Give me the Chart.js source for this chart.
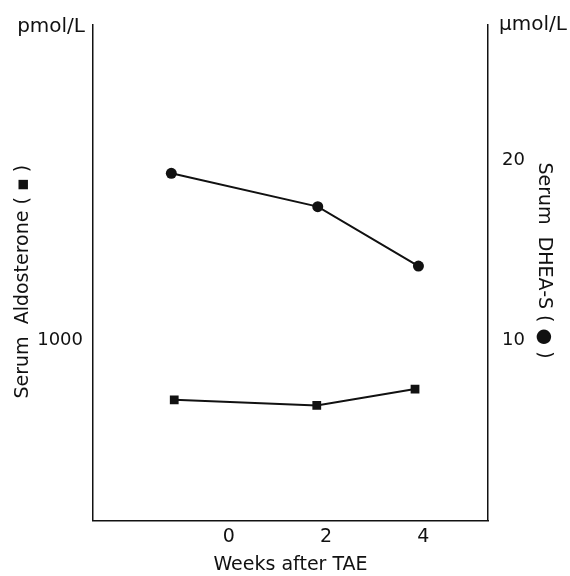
<!DOCTYPE html>
<html>
<head>
<meta charset="utf-8">
<script src="https://cdn.jsdelivr.net/npm/chart.js@4/dist/chart.umd.min.js"></script>
<style>
  html, body { margin: 0; padding: 0; background: #fff; }
  #wrap { width: 570px; height: 576px; }
</style>
</head>
<body>
<div id="wrap"><canvas id="tae-chart"></canvas></div>
<script>
const weekTicks = [0, 2, 4];
const aldoTicks = [1000];
const dheaTicks = [10, 20];

const aldoWeeks = [-1.12, 1.81, 3.83];
const aldoValues = [669, 638, 729];
const dheaWeeks = [-1.18, 1.83, 3.90];
const dheaValues = [19.26, 17.41, 14.11];

const ink = '#111';
const textFont = 'DejaVu Sans';

const pairs = (xs, ys) => xs.map((x, i) => ({ x: x, y: ys[i] }));
const fixTicks = list => scale => { scale.ticks = list.map(v => ({ value: v })); };

// unit labels beside the top of both axes
const unitLabels = {
    id: 'unitLabels',
    afterDraw(chart) {
        const { ctx, chartArea } = chart;
        ctx.save();
        ctx.fillStyle = ink;
        ctx.font = '20px "' + textFont + '"';
        ctx.textBaseline = 'alphabetic';
        ctx.textAlign = 'right';
        ctx.fillText('pmol/L', chartArea.left - 8, 32);
        ctx.textAlign = 'left';
        ctx.fillText('\u03bcmol/L', chartArea.right + 11, 30);
        ctx.restore();
    }
};

Chart.defaults.color = ink;
Chart.defaults.font.family = textFont;

new Chart(document.getElementById('tae-chart').getContext('2d'), {
    type: 'line',
    data: {
        datasets: [
            {
                label: 'Serum DHEA-S',
                data: pairs(dheaWeeks, dheaValues),
                yAxisID: 'yDhea',
                borderColor: ink,
                borderWidth: 2,
                pointStyle: 'circle',
                pointRadius: 5.5,
                pointBackgroundColor: ink,
                pointBorderColor: ink,
                pointBorderWidth: 0
            },
            {
                label: 'Serum Aldosterone',
                data: pairs(aldoWeeks, aldoValues),
                yAxisID: 'yAldo',
                borderColor: ink,
                borderWidth: 2,
                pointStyle: 'rect',
                pointRadius: 6.2,
                pointBackgroundColor: ink,
                pointBorderColor: ink,
                pointBorderWidth: 0
            }
        ]
    },
    options: {
        responsive: true,
        maintainAspectRatio: false,
        animation: false,
        layout: { padding: { top: 24, left: 0, right: 0, bottom: 0 } },
        plugins: {
            legend: { display: false },
            tooltip: { enabled: false }
        },
        scales: {
            x: {
                type: 'linear',
                min: -2.79,
                max: 5.33,
                afterBuildTicks: fixTicks(weekTicks),
                grid: { display: false, drawTicks: false, tickLength: 0 },
                border: { display: true, color: ink, width: 1.5 },
                ticks: { padding: 5, font: { size: 19 } },
                title: { display: true, text: 'Weeks after TAE', font: { size: 19 }, padding: { top: 0, bottom: 0 } }
            },
            yAldo: {
                type: 'linear',
                position: 'left',
                min: 0,
                max: 2750,
                afterBuildTicks: fixTicks(aldoTicks),
                afterFit: s => { s.width = 93; },
                grid: { display: false, drawTicks: false, tickLength: 0 },
                border: { display: true, color: ink, width: 1.5 },
                ticks: { padding: 10, font: { size: 18 }, callback: v => String(v) },
                title: { display: true, text: 'Serum  Aldosterone ( \u25aa )   ', font: { size: 19 }, padding: { top: 12, bottom: 0 } }
            },
            yDhea: {
                type: 'linear',
                position: 'right',
                min: 0,
                max: 27.5,
                afterBuildTicks: fixTicks(dheaTicks),
                afterFit: s => { s.width = 82; },
                grid: { display: false, drawTicks: false, tickLength: 0 },
                border: { display: true, color: ink, width: 1.5 },
                ticks: { padding: 14, font: { size: 18 } },
                title: { display: true, text: 'Serum  DHEA-S ( \u25cf )    ', font: { size: 19 }, padding: { top: 15, bottom: 0 } }
            }
        }
    },
    plugins: [unitLabels]
});
</script>
</body>
</html>
